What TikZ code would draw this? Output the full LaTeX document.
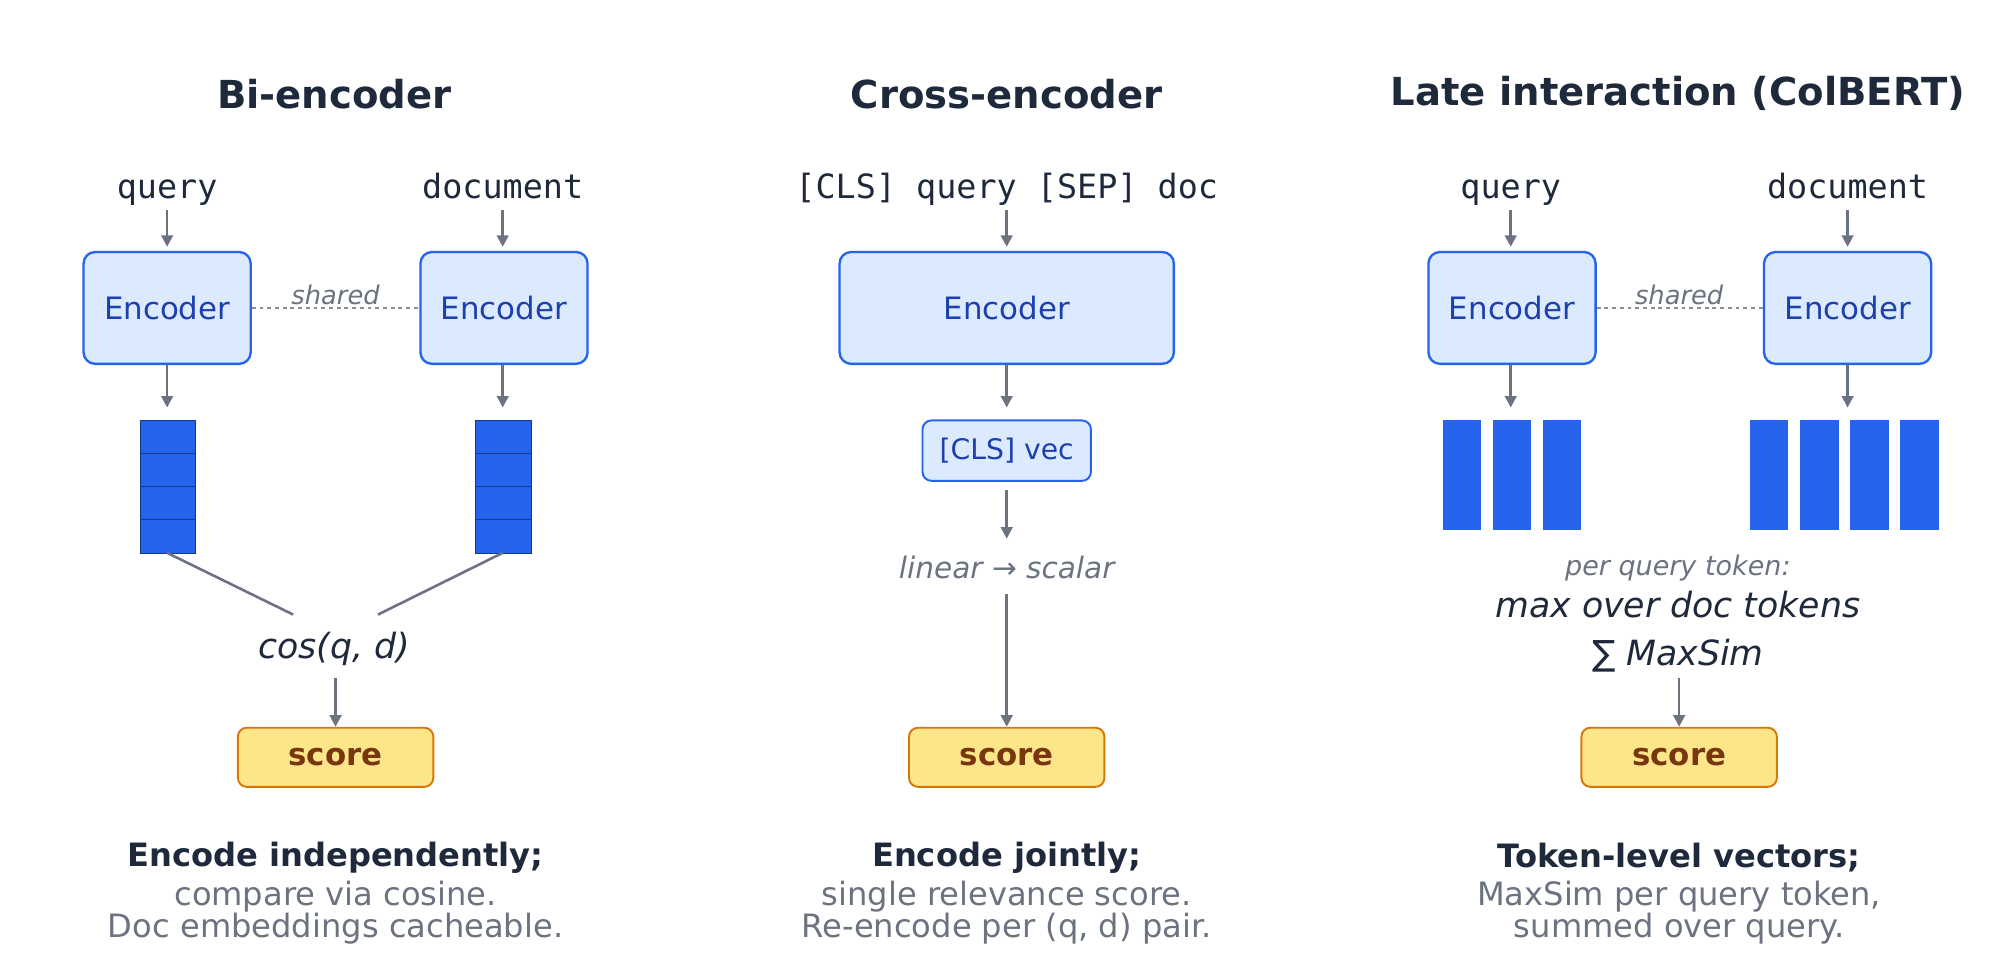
\documentclass[tikz,border=0pt]{standalone}
\usepackage{fontspec}
\setmainfont{DejaVu Sans}
\setmonofont{DejaVu Sans Mono}
\usetikzlibrary{arrows.meta}
\definecolor{dark}{HTML}{1E293B}
\definecolor{gr}{HTML}{6B7280}
\definecolor{encf}{HTML}{DBEAFE}
\definecolor{encd}{HTML}{2563EB}
\definecolor{enct}{HTML}{1E40AF}
\definecolor{scf}{HTML}{FDE68A}
\definecolor{scd}{HTML}{D97706}
\definecolor{sct}{HTML}{78350F}
\tikzset{
 title/.style={font=\fontsize{30}{36}\selectfont\bfseries,text=dark},
 inp/.style={font=\ttfamily\fontsize{26}{30}\selectfont,text=dark},
 enc/.style={draw=encd,fill=encf,line width=1.8pt,rounded corners=9pt,text=enct,font=\fontsize{24}{28}\selectfont,minimum height=87pt},
 score/.style={draw=scd,fill=scf,line width=1.5pt,rounded corners=7pt,text=sct,font=\fontsize{24}{28}\selectfont\bfseries,minimum width=152pt,minimum height=46pt},
 arr/.style={draw=gr,line width=2pt,-{Triangle[length=9pt,width=9pt]}},
 ln/.style={draw=gr,line width=2pt},
 sh/.style={draw=gr!80,dashed,line width=1.2pt},
 shl/.style={font=\itshape\fontsize{20}{24}\selectfont,text=gr},
 vec/.style={fill=encd,draw=encd!60!black,line width=0.4pt},
 bt/.style={font=\fontsize{25}{30}\selectfont\bfseries,text=dark},
 gt/.style={font=\fontsize{25}{30}\selectfont,text=gr},
}
\begin{document}
\begin{tikzpicture}[x=1pt,y=-1pt]
\useasboundingbox (0,0) rectangle (1568,762);
\node[title] (t1) at (260,73) {Bi-encoder};
\node[title] (t2) at (783,73) {Cross-encoder};
\node[title] (t3) at (1305,73) {Late interaction (ColBERT)};
% ---- Bi-encoder
\node[inp] (q1) at (130,147) {query\vphantom{dq}};
\node[inp] (d1) at (391,147) {document\vphantom{dq}};
\node[enc,minimum width=130pt] (e1) at (130,239.5) {Encoder};
\node[enc,minimum width=130pt] (e2) at (392,239.5) {Encoder};
\draw[arr] (130,163) -- (130,192);
\draw[arr] (391,163) -- (391,192);
\draw[sh] (e1.east) -- (e2.west);
\node[shl] (s1) at (261,229) {shared};
\coordinate (v1t) at (130,317);
\coordinate (v2t) at (391,317);
\draw[arr] (e1.south) -- (v1t);
\draw[arr] (e2.south-|v2t) -- (v2t);
\foreach \i in {0,1,2,3}{
 \draw[vec] (109,327+25.75*\i) rectangle (152,327+25.75*\i+25.75);
 \draw[vec] (370,327+25.75*\i) rectangle (413,327+25.75*\i+25.75);
}
\coordinate (v1b) at (130,430);
\coordinate (v2b) at (391,430);
\coordinate (c1) at (228,478);
\coordinate (c2) at (294,478);
\draw[ln] (v1b) -- (c1);
\draw[ln] (v2b) -- (c2);
\node[font=\itshape\fontsize{27}{32}\selectfont,text=dark] (cos) at (260,505) {cos(q, d)};
\node[score] (sc1) at (261,589) {score};
\draw[arr] (261,527) -- (sc1.north);
\node[bt] (b1) at (261,667) {Encode independently;};
\node[gt] (b2) at (261,697) {compare via cosine.};
\node[gt] (b3) at (261,722) {Doc embeddings cacheable.};
% ---- Cross
\node[inp] (q2) at (783,147) {[CLS] query [SEP] doc};
\node[enc,minimum width=260pt] (e3) at (783,239.5) {Encoder};
\draw[arr] (783,163) -- (783,192);
\node[draw=encd,fill=encf,line width=1.5pt,rounded corners=7pt,text=enct,font=\fontsize{22}{26}\selectfont,minimum width=131pt,minimum height=47pt] (cv) at (783,350.5) {[CLS] vec};
\draw[arr] (e3.south) -- (783,317);
\node[font=\itshape\fontsize{23}{27}\selectfont,text=gr] (lin) at (783,441) {linear → scalar};
\draw[arr] (783,381) -- (783,419);
\node[score] (sc2) at (783,589) {score};
\draw[arr] (783,462) -- (sc2.north);
\node[bt] (b4) at (783,667) {Encode jointly;};
\node[gt] (b5) at (783,697) {single relevance score.};
\node[gt] (b6) at (783,722) {Re-encode per (q, d) pair.};
% ---- Late
\node[inp] (q3) at (1175,147) {query\vphantom{dq}};
\node[inp] (d3) at (1437,147) {document\vphantom{dq}};
\node[enc,minimum width=130pt] (e4) at (1176,239.5) {Encoder};
\node[enc,minimum width=130pt] (e5) at (1437,239.5) {Encoder};
\draw[arr] (1175,163) -- (1175,192);
\draw[arr] (1437,163) -- (1437,192);
\draw[sh] (e4.east) -- (e5.west);
\node[shl] (s2) at (1306,229) {shared};
\draw[arr] (e4.south-|1175,0) -- (1175,317);
\draw[arr] (e5.south) -- (1437,317);
\foreach \x in {1122,1161,1200}{\fill[encd] (\x,327) rectangle (\x+30,412);}
\foreach \x in {1361,1400,1439,1478}{\fill[encd] (\x,327) rectangle (\x+30,412);}
\node[font=\itshape\fontsize{21}{25}\selectfont,text=gr] (pq) at (1305,442) {per query token:};
\node[font=\itshape\fontsize{27}{32}\selectfont,text=dark] (mx) at (1305,470) {max over doc tokens};
\node[font=\fontsize{27}{32}\selectfont,text=dark] (ms) at (1305,510) {∑ \textit{MaxSim}};
\node[score] (sc3) at (1306,589) {score};
\draw[arr] (1306,527) -- (sc3.north);
\node[bt] (b7) at (1306,667) {Token-level vectors;};
\node[gt] (b8) at (1306,697) {MaxSim per query token,};
\node[gt] (b9) at (1306,722) {summed over query.};
\end{tikzpicture}
\end{document}
